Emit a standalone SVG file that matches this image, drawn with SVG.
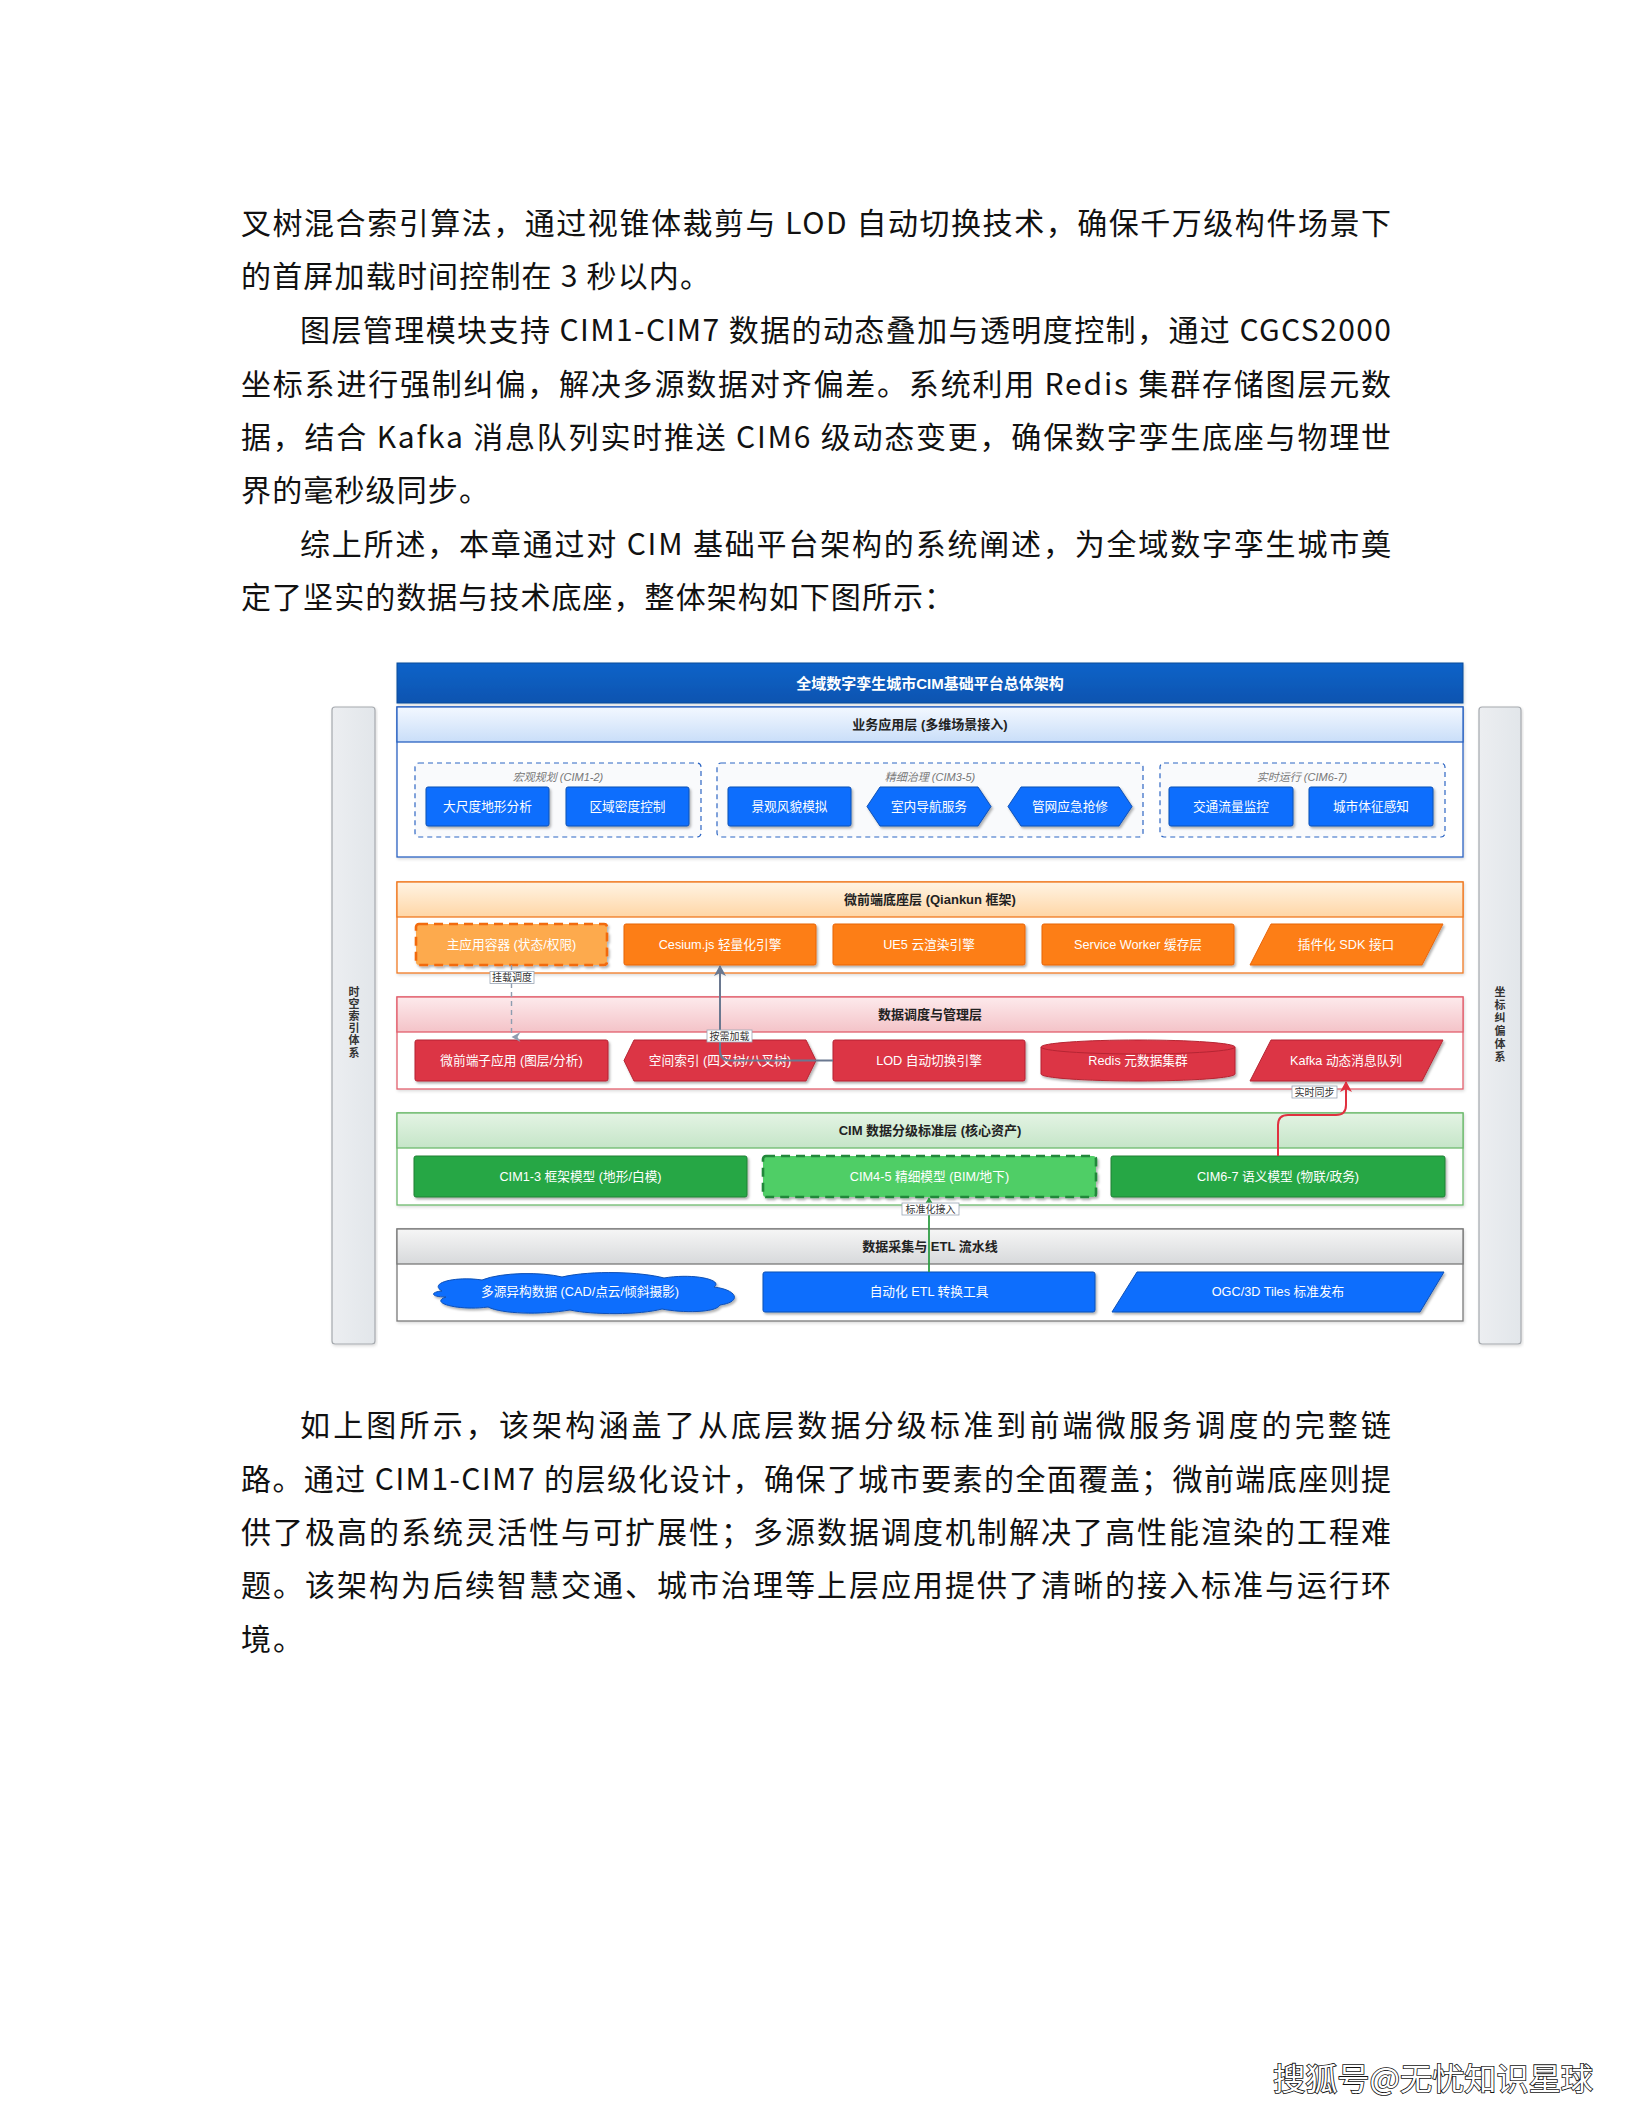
<svg xmlns="http://www.w3.org/2000/svg" width="1632" height="2112" viewBox="0 0 1632 2112">
<style>
.body{font-family:"Noto Sans CJK SC","Liberation Serif",sans-serif;font-size:30px;fill:#111;}
.nt{font-family:"Liberation Sans","Noto Sans CJK SC",sans-serif;font-size:12.7px;fill:#fff;text-anchor:middle;dominant-baseline:central;}
.ht{font-family:"Liberation Sans","Noto Sans CJK SC",sans-serif;font-size:13px;font-weight:bold;fill:#222;text-anchor:middle;dominant-baseline:central;}
.gl{font-family:"Liberation Sans","Noto Sans CJK SC",sans-serif;font-size:11px;font-style:italic;fill:#777;text-anchor:middle;dominant-baseline:central;}
.st{font-family:"Liberation Sans","Noto Sans CJK SC",sans-serif;font-size:11px;font-weight:bold;fill:#333;text-anchor:middle;dominant-baseline:central;}
.lb{font-family:"Liberation Sans","Noto Sans CJK SC",sans-serif;font-size:10px;fill:#333;text-anchor:middle;dominant-baseline:central;}
.lbox{fill:#fff;stroke:#9aa5b5;stroke-width:0.8;}
.blue{fill:#0d6efd;stroke:#0a4fb5;stroke-width:1;filter:url(#sh);}
.orange{fill:#fd7e14;stroke:#e8650c;stroke-width:1;filter:url(#sh);}
.red{fill:#dc3545;stroke:#b52533;stroke-width:1;filter:url(#sh);}
.green{fill:#28a745;stroke:#1e8035;stroke-width:1;filter:url(#sh);}
.grp{fill:#f9fafc;stroke:#2d66c4;stroke-width:1.2;stroke-dasharray:5 4;}
.layer{fill:#fff;stroke-width:1.3;filter:url(#sh2);}
</style>
<defs>
<filter id="sh" x="-10%" y="-30%" width="125%" height="170%"><feDropShadow dx="1.5" dy="2" stdDeviation="1.3" flood-color="#000" flood-opacity="0.3"/></filter>
<filter id="sh2" x="-5%" y="-10%" width="110%" height="125%"><feDropShadow dx="1" dy="1.5" stdDeviation="1.5" flood-color="#000" flood-opacity="0.15"/></filter>
<linearGradient id="gTitle" x1="0" y1="0" x2="0" y2="1"><stop offset="0" stop-color="#0b63c9"/><stop offset="1" stop-color="#0754b0"/></linearGradient>
<linearGradient id="gBlue" x1="0" y1="0" x2="0" y2="1"><stop offset="0" stop-color="#f3f8ff"/><stop offset="1" stop-color="#c9def9"/></linearGradient>
<linearGradient id="gOrange" x1="0" y1="0" x2="0" y2="1"><stop offset="0" stop-color="#fff4e4"/><stop offset="1" stop-color="#ffd6a6"/></linearGradient>
<linearGradient id="gRed" x1="0" y1="0" x2="0" y2="1"><stop offset="0" stop-color="#fdeaec"/><stop offset="1" stop-color="#f4c3c8"/></linearGradient>
<linearGradient id="gGreen" x1="0" y1="0" x2="0" y2="1"><stop offset="0" stop-color="#e4f4e4"/><stop offset="1" stop-color="#c5e5c8"/></linearGradient>
<linearGradient id="gGray" x1="0" y1="0" x2="0" y2="1"><stop offset="0" stop-color="#f6f6f6"/><stop offset="1" stop-color="#d7d9db"/></linearGradient>
<linearGradient id="gSide" x1="0" y1="0" x2="1" y2="0"><stop offset="0" stop-color="#eceef1"/><stop offset="1" stop-color="#e2e6ea"/></linearGradient>
<marker id="aGray" markerWidth="10" markerHeight="10" refX="5" refY="9" orient="auto-start-reverse" markerUnits="userSpaceOnUse" viewBox="0 0 10 10"><path d="M0,0 L5,9 L10,0 L5,3 Z" fill="#8e9db0"/></marker>
<marker id="aSlate" markerWidth="12" markerHeight="12" refX="6" refY="1" orient="0" markerUnits="userSpaceOnUse" viewBox="0 0 12 12"><path d="M6,0 L12,11 L6,8 L0,11 Z" fill="#6a7890"/></marker>
<marker id="aRed" markerWidth="12" markerHeight="12" refX="6" refY="1" orient="0" markerUnits="userSpaceOnUse" viewBox="0 0 12 12"><path d="M6,0 L12,11 L6,8 L0,11 Z" fill="#e03140"/></marker>
<marker id="aGreen" markerWidth="8" markerHeight="8" refX="4" refY="1" orient="0" markerUnits="userSpaceOnUse" viewBox="0 0 8 8"><path d="M4,0 L8,7 L4,5 L0,7 Z" fill="#2f9e44"/></marker>
</defs>
<rect width="1632" height="2112" fill="#fff"/>

<g id="body-text-top">
<text class="body" x="241" y="234" textLength="1150" lengthAdjust="spacing">叉树混合索引算法，通过视锥体裁剪与 LOD 自动切换技术，确保千万级构件场景下</text>
<text class="body" x="241" y="287" textLength="469" lengthAdjust="spacing">的首屏加载时间控制在 3 秒以内。</text>
<text class="body" x="300" y="341" textLength="1091" lengthAdjust="spacing">图层管理模块支持 CIM1-CIM7 数据的动态叠加与透明度控制，通过 CGCS2000</text>
<text class="body" x="241" y="395" textLength="1150" lengthAdjust="spacing">坐标系进行强制纠偏，解决多源数据对齐偏差。系统利用 Redis 集群存储图层元数</text>
<text class="body" x="241" y="448" textLength="1150" lengthAdjust="spacing">据，结合 Kafka 消息队列实时推送 CIM6 级动态变更，确保数字孪生底座与物理世</text>
<text class="body" x="241" y="501" textLength="248" lengthAdjust="spacing">界的毫秒级同步。</text>
<text class="body" x="300" y="555" textLength="1091" lengthAdjust="spacing">综上所述，本章通过对 CIM 基础平台架构的系统阐述，为全域数字孪生城市奠</text>
<text class="body" x="241" y="608" textLength="713" lengthAdjust="spacing">定了坚实的数据与技术底座，整体架构如下图所示：</text>
</g>

<g id="sidebar-left">
<rect x="332" y="707" width="43" height="637" rx="3" fill="url(#gSide)" stroke="#a5a9ae" stroke-width="1.2" filter="url(#sh2)"/>
<text class="st"><tspan x="354" y="992">时</tspan><tspan x="354" y="1004">空</tspan><tspan x="354" y="1016">索</tspan><tspan x="354" y="1028">引</tspan><tspan x="354" y="1040">体</tspan><tspan x="354" y="1053">系</tspan></text>
</g>
<g id="sidebar-right">
<rect x="1479" y="707" width="42" height="637" rx="3" fill="url(#gSide)" stroke="#a5a9ae" stroke-width="1.2" filter="url(#sh2)"/>
<text class="st"><tspan x="1500" y="992">坐</tspan><tspan x="1500" y="1005">标</tspan><tspan x="1500" y="1018">纠</tspan><tspan x="1500" y="1031">偏</tspan><tspan x="1500" y="1044">体</tspan><tspan x="1500" y="1057">系</tspan></text>
</g>

<g id="title">
<rect x="397" y="663" width="1066" height="40" fill="url(#gTitle)" stroke="#0a4a9a" stroke-width="1" filter="url(#sh2)"/>
<text x="930" y="683" font-family="Liberation Sans, Noto Sans CJK SC, sans-serif" font-size="15" font-weight="bold" fill="#fff" text-anchor="middle" dominant-baseline="central">全域数字孪生城市CIM基础平台总体架构</text>
</g>

<g id="layer-business">
<rect class="layer" x="397" y="707" width="1066" height="150" stroke="#2a63c2"/>
<rect x="397" y="707" width="1066" height="35" fill="url(#gBlue)" stroke="#2a63c2" stroke-width="1.3"/>
<text class="ht" x="930" y="724.5">业务应用层 (多维场景接入)</text>
</g>
<g id="group-macro">
<rect class="grp" x="415" y="763" width="286" height="74" rx="4"/>
<text class="gl" x="558" y="777">宏观规划 (CIM1-2)</text>
</g>
<g id="group-fine">
<rect class="grp" x="717" y="763" width="426" height="74" rx="4"/>
<text class="gl" x="930" y="777">精细治理 (CIM3-5)</text>
</g>
<g id="group-realtime">
<rect class="grp" x="1160" y="763" width="285" height="74" rx="4"/>
<text class="gl" x="1302" y="777">实时运行 (CIM6-7)</text>
</g>
<g id="n-terrain"><rect class="blue" x="426" y="787" width="123" height="39" rx="2"/><text class="nt" x="487.5" y="806.5">大尺度地形分析</text></g>
<g id="n-density"><rect class="blue" x="566" y="787" width="123" height="39" rx="2"/><text class="nt" x="627.5" y="806.5">区域密度控制</text></g>
<g id="n-landscape"><rect class="blue" x="728" y="787" width="123" height="39" rx="2"/><text class="nt" x="789.5" y="806.5">景观风貌模拟</text></g>
<g id="n-indoor"><polygon class="blue" points="880,787 978,787 991,806.5 978,826 880,826 867,806.5"/><text class="nt" x="929" y="806.5">室内导航服务</text></g>
<g id="n-pipe"><polygon class="blue" points="1021,787 1119,787 1132,806.5 1119,826 1021,826 1008,806.5"/><text class="nt" x="1070" y="806.5">管网应急抢修</text></g>
<g id="n-traffic"><rect class="blue" x="1169" y="787" width="124" height="39" rx="2"/><text class="nt" x="1231" y="806.5">交通流量监控</text></g>
<g id="n-sign"><rect class="blue" x="1309" y="787" width="124" height="39" rx="2"/><text class="nt" x="1371" y="806.5">城市体征感知</text></g>

<g id="layer-micro">
<rect class="layer" x="397" y="882" width="1066" height="91" stroke="#f07a22"/>
<rect x="397" y="882" width="1066" height="35" fill="url(#gOrange)" stroke="#f07a22" stroke-width="1.3"/>
<text class="ht" x="930" y="899.5">微前端底座层 (Qiankun 框架)</text>
</g>
<g id="n-main"><rect x="416" y="924" width="191" height="41" rx="3" fill="#fdaa4d" stroke="#f26a10" stroke-width="2.6" stroke-dasharray="9 6" filter="url(#sh)"/><text class="nt" x="511.5" y="944.5">主应用容器 (状态/权限)</text></g>
<g id="n-cesium"><rect class="orange" x="624" y="924" width="192" height="41" rx="2"/><text class="nt" x="720" y="944.5">Cesium.js 轻量化引擎</text></g>
<g id="n-ue5"><rect class="orange" x="833" y="924" width="192" height="41" rx="2"/><text class="nt" x="929" y="944.5">UE5 云渲染引擎</text></g>
<g id="n-sw"><rect class="orange" x="1042" y="924" width="192" height="41" rx="2"/><text class="nt" x="1138" y="944.5">Service Worker 缓存层</text></g>
<g id="n-sdk"><polygon class="orange" points="1271,924 1443,924 1422,965 1250,965"/><text class="nt" x="1346" y="944.5">插件化 SDK 接口</text></g>

<g id="layer-data">
<rect class="layer" x="397" y="997" width="1066" height="92" stroke="#e2606e"/>
<rect x="397" y="997" width="1066" height="35" fill="url(#gRed)" stroke="#e2606e" stroke-width="1.3"/>
<text class="ht" x="930" y="1014.5">数据调度与管理层</text>
</g>
<g id="n-subapp"><rect class="red" x="415" y="1040" width="193" height="41" rx="2"/><text class="nt" x="511.5" y="1060.5">微前端子应用 (图层/分析)</text></g>
<g id="n-index"><polygon class="red" points="634,1040 806,1040 816,1060.5 806,1081 634,1081 624,1060.5"/><text class="nt" x="720" y="1060.5">空间索引 (四叉树/八叉树)</text></g>
<g id="n-lod"><rect class="red" x="833" y="1040" width="192" height="41" rx="2"/><text class="nt" x="929" y="1060.5">LOD 自动切换引擎</text></g>
<g id="n-redis"><path class="red" d="M1041,1047 A97,7 0 0 1 1235,1047 V1074 A97,7 0 0 1 1041,1074 Z"/><path d="M1041,1047 A97,7 0 0 0 1235,1047" fill="none" stroke="#b52533" stroke-width="1"/><text class="nt" x="1138" y="1061">Redis 元数据集群</text></g>
<g id="n-kafka"><polygon class="red" points="1271,1040 1443,1040 1422,1081 1250,1081"/><text class="nt" x="1346" y="1060.5">Kafka 动态消息队列</text></g>

<g id="layer-cim">
<rect class="layer" x="397" y="1113" width="1066" height="92" stroke="#6dba6d"/>
<rect x="397" y="1113" width="1066" height="35" fill="url(#gGreen)" stroke="#6dba6d" stroke-width="1.3"/>
<text class="ht" x="930" y="1130.5">CIM 数据分级标准层 (核心资产)</text>
</g>
<g id="n-cim13"><rect class="green" x="414" y="1156" width="333" height="41" rx="2"/><text class="nt" x="580.5" y="1176.5">CIM1-3 框架模型 (地形/白模)</text></g>
<g id="n-cim45"><rect x="763" y="1156" width="333" height="41" rx="3" fill="#4fce66" stroke="#23873a" stroke-width="2.6" stroke-dasharray="9 6" filter="url(#sh)"/><text class="nt" x="929.5" y="1176.5">CIM4-5 精细模型 (BIM/地下)</text></g>
<g id="n-cim67"><rect class="green" x="1111" y="1156" width="334" height="41" rx="2"/><text class="nt" x="1278" y="1176.5">CIM6-7 语义模型 (物联/政务)</text></g>

<g id="layer-etl">
<rect class="layer" x="397" y="1229" width="1066" height="92" stroke="#7a7a7a"/>
<rect x="397" y="1229" width="1066" height="35" fill="url(#gGray)" stroke="#7a7a7a" stroke-width="1.3"/>
<text class="ht" x="930" y="1246.5">数据采集与 ETL 流水线</text>
</g>
<g id="n-source"><path class="blue" d="M442,1291 C428,1283 455,1276 482,1280 C502,1272 542,1272 562,1277 C592,1270 642,1272 664,1278 C694,1273 724,1280 714,1287 C738,1290 742,1302 720,1305 C716,1313 682,1313 662,1309 C640,1315 592,1315 570,1310 C540,1315 502,1314 488,1307 C460,1311 428,1303 446,1297 C430,1297 430,1292 442,1291 Z"/><text class="nt" x="580" y="1291.5">多源异构数据 (CAD/点云/倾斜摄影)</text></g>
<g id="n-etl"><rect class="blue" x="763" y="1272" width="332" height="40" rx="2"/><text class="nt" x="929" y="1292">自动化 ETL 转换工具</text></g>
<g id="n-ogc"><polygon class="blue" points="1137,1272 1444,1272 1420,1312 1112,1312"/><text class="nt" x="1278" y="1292">OGC/3D Tiles 标准发布</text></g>

<g id="connectors">
<path d="M511.5,965 V1037" fill="none" stroke="#8e9db0" stroke-width="1.4" stroke-dasharray="5 4" marker-end="url(#aGray)"/>
<rect class="lbox" x="490" y="971.5" width="44" height="12"/>
<text class="lb" x="512" y="977.5">挂载调度</text>
<path d="M833,1060.5 H730 Q720,1060.5 720,1050.5 V966" fill="none" stroke="#6a7890" stroke-width="2" marker-end="url(#aSlate)"/>
<rect class="lbox" x="707" y="1030" width="45" height="12"/>
<text class="lb" x="729.5" y="1036">按需加载</text>
<path d="M1278,1156 V1125 Q1278,1115 1288,1115 H1336 Q1346,1115 1346,1105 V1082" fill="none" stroke="#e03140" stroke-width="2" marker-end="url(#aRed)"/>
<rect class="lbox" x="1292" y="1086" width="45" height="12"/>
<text class="lb" x="1314.5" y="1092">实时同步</text>
<path d="M929,1272 V1198" fill="none" stroke="#2f9e44" stroke-width="1.8" marker-end="url(#aGreen)"/>
<rect class="lbox" x="902" y="1203" width="57" height="12"/>
<text class="lb" x="930.5" y="1209">标准化接入</text>
</g>

<g id="body-text-bottom">
<text class="body" x="300" y="1436" textLength="1091" lengthAdjust="spacing">如上图所示，该架构涵盖了从底层数据分级标准到前端微服务调度的完整链</text>
<text class="body" x="241" y="1490" textLength="1150" lengthAdjust="spacing">路。通过 CIM1-CIM7 的层级化设计，确保了城市要素的全面覆盖；微前端底座则提</text>
<text class="body" x="241" y="1543" textLength="1150" lengthAdjust="spacing">供了极高的系统灵活性与可扩展性；多源数据调度机制解决了高性能渲染的工程难</text>
<text class="body" x="241" y="1596" textLength="1150" lengthAdjust="spacing">题。该架构为后续智慧交通、城市治理等上层应用提供了清晰的接入标准与运行环</text>
<text class="body" x="241" y="1650" textLength="62" lengthAdjust="spacing">境。</text>
</g>

<g id="footer">
<text x="1273" y="2090" font-family="Noto Sans CJK SC, sans-serif" font-size="31" fill="#fff" stroke="#111" stroke-width="1.6" paint-order="stroke" textLength="320" lengthAdjust="spacingAndGlyphs">搜狐号@无忧知识星球</text>
</g>
</svg>
